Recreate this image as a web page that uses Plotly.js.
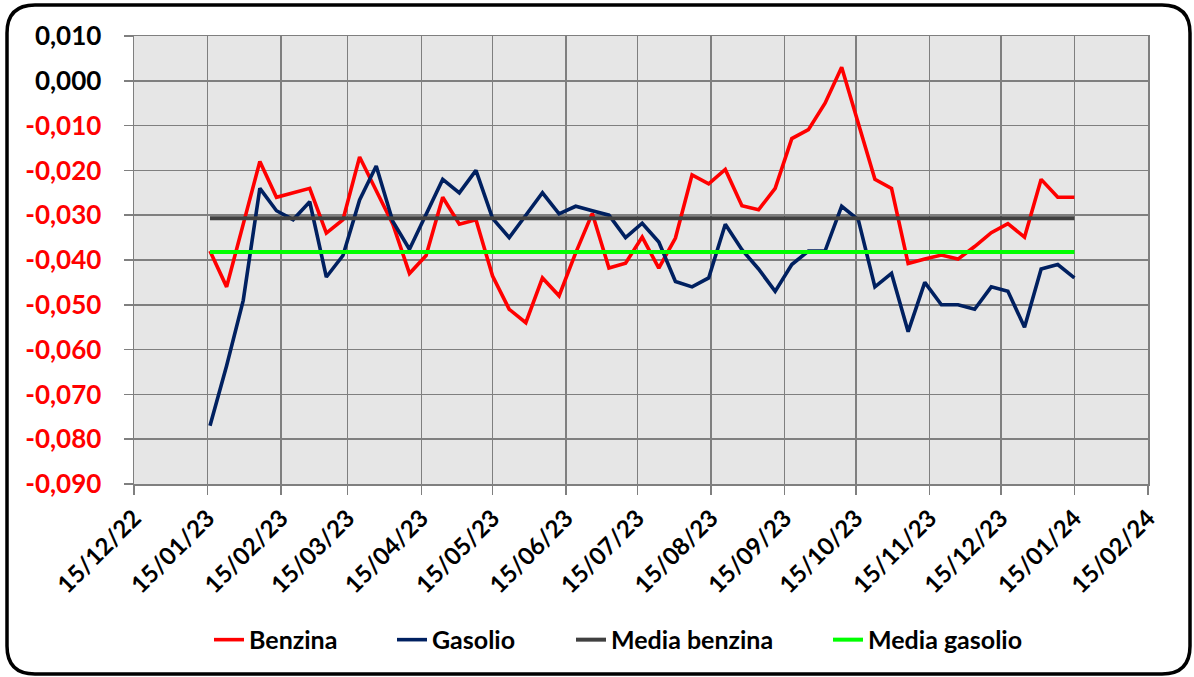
<!DOCTYPE html>
<html>
<head>
<meta charset="utf-8">
<script src="https://cdn.plot.ly/plotly-3.0.1.min.js"></script>
<style>
  html, body { margin: 0; padding: 0; background: #ffffff; }
  #chart { width: 1194px; height: 677px; }
</style>
</head>
<body>
<div id="chart"></div>
<script>
// ---- data ----
const dates = [
  "2023-01-16","2023-01-23","2023-01-30","2023-02-06","2023-02-13","2023-02-20","2023-02-27",
  "2023-03-06","2023-03-13","2023-03-20","2023-03-27","2023-04-03","2023-04-10","2023-04-17",
  "2023-04-24","2023-05-01","2023-05-08","2023-05-15","2023-05-22","2023-05-29","2023-06-05",
  "2023-06-12","2023-06-19","2023-06-26","2023-07-03","2023-07-10","2023-07-17","2023-07-24",
  "2023-07-31","2023-08-07","2023-08-14","2023-08-21","2023-08-28","2023-09-04","2023-09-11",
  "2023-09-18","2023-09-25","2023-10-02","2023-10-09","2023-10-16","2023-10-23","2023-10-30",
  "2023-11-06","2023-11-13","2023-11-20","2023-11-27","2023-12-04","2023-12-11","2023-12-18",
  "2023-12-25","2024-01-01","2024-01-08","2024-01-15"
];
const benzina = [
  -0.038, -0.046, -0.032, -0.018, -0.026, -0.025, -0.024, -0.034, -0.031, -0.017,
  -0.0245, -0.032, -0.043, -0.039, -0.026, -0.032, -0.031, -0.0436, -0.051, -0.054,
  -0.044, -0.048, -0.0384, -0.0296, -0.0418, -0.0407, -0.0349, -0.0418, -0.0351, -0.021,
  -0.023, -0.0198, -0.0279, -0.0288, -0.024, -0.0129, -0.0109, -0.005, 0.003, -0.0095,
  -0.022, -0.024, -0.0408, -0.0398, -0.0389, -0.0398, -0.037, -0.0339, -0.0319, -0.0349,
  -0.022, -0.026, -0.026
];
const gasolio = [
  -0.077, -0.0636, -0.049, -0.024, -0.029, -0.031, -0.027, -0.0438, -0.039, -0.0266,
  -0.019, -0.0314, -0.0376, -0.030, -0.022, -0.025, -0.020, -0.0307, -0.035, -0.030,
  -0.025, -0.0297, -0.028, -0.029, -0.030, -0.035, -0.0318, -0.036, -0.0448, -0.046,
  -0.044, -0.032, -0.0377, -0.042, -0.047, -0.041, -0.038, -0.038, -0.028, -0.031,
  -0.046, -0.043, -0.056, -0.045, -0.050, -0.050, -0.051, -0.046, -0.047, -0.055,
  -0.042, -0.041, -0.044
];
const mediaBenzina = -0.0307;
const mediaGasolio = -0.0382;

const seriesNames = ["Benzina", "Gasolio", "Media benzina", "Media gasolio"];

const xTickVals = [
  "2022-12-15","2023-01-15","2023-02-15","2023-03-15","2023-04-15","2023-05-15","2023-06-15",
  "2023-07-15","2023-08-15","2023-09-15","2023-10-15","2023-11-15","2023-12-15","2024-01-15","2024-02-15"
];
const xTickText = [
  "15/12/22","15/01/23","15/02/23","15/03/23","15/04/23","15/05/23","15/06/23",
  "15/07/23","15/08/23","15/09/23","15/10/23","15/11/23","15/12/23","15/01/24","15/02/24"
];
const yTickVals = [0.01, 0.0, -0.01, -0.02, -0.03, -0.04, -0.05, -0.06, -0.07, -0.08, -0.09];
const yTickText = ["0,010","0,000","-0,010","-0,020","-0,030","-0,040","-0,050","-0,060","-0,070","-0,080","-0,090"];

// ---- drawing ----
const W = 1194, H = 677;
const M = { l: 134, r: 46, t: 36, b: 193 };
const PW = W - M.l - M.r, PH = H - M.t - M.b;
const px = x => (x - M.l) / PW;
const py = y => (H - M.b - y) / PH;

const yTickTextStyled = yTickText.map((t, i) =>
  yTickVals[i] < 0 ? '<span style="color:#FF0000">' + t + '</span>' : t);

const firstLast = [dates[0], dates[dates.length - 1]];

const traces = [
  { x: dates, y: benzina, name: seriesNames[0], mode: "lines", legend: "legend",
    line: { color: "#FF0000", width: 3.6 } },
  { x: dates, y: gasolio, name: seriesNames[1], mode: "lines", legend: "legend2",
    line: { color: "#002060", width: 3.6 } },
  { x: firstLast, y: [mediaBenzina, mediaBenzina], name: seriesNames[2], mode: "lines", legend: "legend3",
    line: { color: "#404040", width: 4 } },
  { x: firstLast, y: [mediaGasolio, mediaGasolio], name: seriesNames[3], mode: "lines", legend: "legend4",
    line: { color: "#00FF00", width: 4 } }
];

// rounded outer frame
const L = 7, R = 1190, T = 5, B = 674, rad = 28;
const framePath =
  "M " + px(L + rad) + "," + py(T) +
  " L " + px(R - rad) + "," + py(T) +
  " Q " + px(R) + "," + py(T) + " " + px(R) + "," + py(T + rad) +
  " L " + px(R) + "," + py(B - rad) +
  " Q " + px(R) + "," + py(B) + " " + px(R - rad) + "," + py(B) +
  " L " + px(L + rad) + "," + py(B) +
  " Q " + px(L) + "," + py(B) + " " + px(L) + "," + py(B - rad) +
  " L " + px(L) + "," + py(T + rad) +
  " Q " + px(L) + "," + py(T) + " " + px(L + rad) + "," + py(T) + " Z";

const legendFont = { size: 25, family: "Lato, sans-serif", weight: "bold", color: "#000000" };
const legendTextStarts = [250, 433, 612, 869];
const mkLegend = xs => ({
  orientation: "h", x: px(xs - 41), xanchor: "left", y: -0.348, yanchor: "middle",
  font: legendFont, bgcolor: "rgba(0,0,0,0)"
});

const gridColor = "#7F7F7F";
const layout = {
  width: W, height: H,
  margin: M,
  paper_bgcolor: "#FFFFFF",
  plot_bgcolor: "#E6E6E6",
  font: { family: "Lato, 'Open Sans', sans-serif", color: "#000000", weight: "bold" },
  showlegend: true,
  legend: mkLegend(legendTextStarts[0]),
  legend2: mkLegend(legendTextStarts[1]),
  legend3: mkLegend(legendTextStarts[2]),
  legend4: mkLegend(legendTextStarts[3]),
  xaxis: {
    type: "date",
    range: ["2022-12-15", "2024-02-15"],
    tickmode: "array", tickvals: xTickVals, ticktext: xTickText,
    tickangle: -45,
    tickfont: { size: 24, family: "Lato, sans-serif", weight: "bold", color: "#000000" },
    ticks: "outside", ticklen: 9, tickwidth: 1.5, tickcolor: gridColor,
    showgrid: true, gridcolor: gridColor, gridwidth: 1.5,
    showline: true, linecolor: gridColor, linewidth: 1.5, mirror: true,
    zeroline: false, fixedrange: true
  },
  yaxis: {
    range: [-0.09, 0.01],
    tickmode: "array", tickvals: yTickVals, ticktext: yTickTextStyled,
    tickfont: { size: 26, family: "Lato, sans-serif", weight: "bold", color: "#000000" },
    ticks: "outside", ticklen: 9, tickwidth: 1.5, tickcolor: gridColor,
    ticklabelstandoff: 17,
    showgrid: true, gridcolor: gridColor, gridwidth: 1.5,
    showline: true, linecolor: gridColor, linewidth: 1.5, mirror: true,
    zeroline: false, fixedrange: true
  },
  shapes: [{
    type: "path", xref: "paper", yref: "paper", path: framePath,
    line: { color: "#000000", width: 3.5 }, fillcolor: "rgba(0,0,0,0)", layer: "above"
  }]
};

Plotly.newPlot("chart", traces, layout, { displayModeBar: false, staticPlot: true });
</script>
</body>
</html>
